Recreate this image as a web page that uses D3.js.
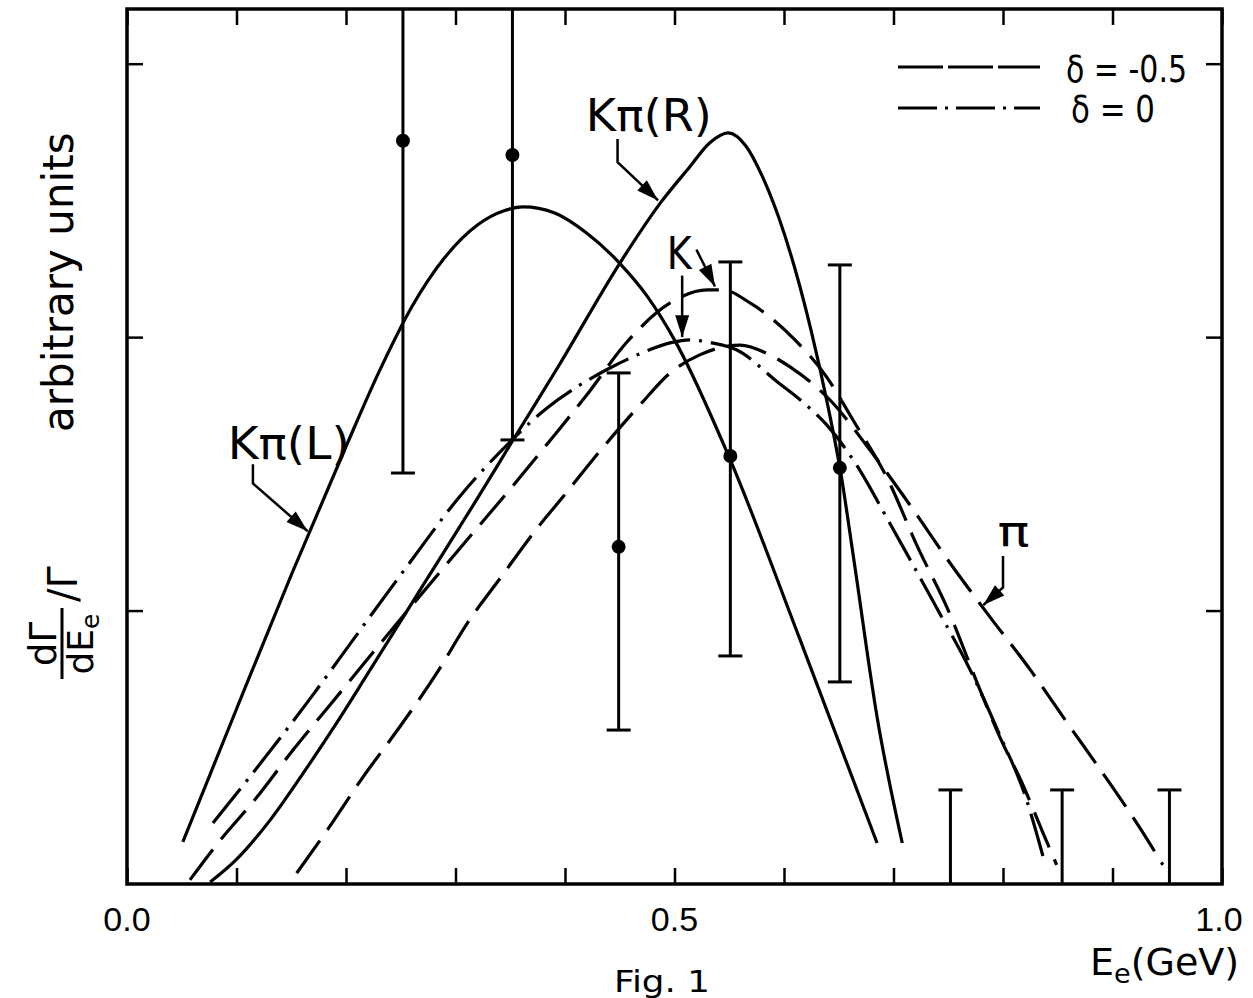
<!DOCTYPE html>
<html><head><meta charset="utf-8">
<script src="https://cdn.jsdelivr.net/npm/d3@7"></script>
<style>
body{margin:0;background:#fff}
svg{display:block}
text{font-family:"DejaVu Sans","Liberation Sans",Arial,sans-serif;fill:#000}
</style>
</head><body>
<svg id="c" width="1253" height="998"></svg>
<script>
// ---------- data ----------
const xTickValues = [0,0.1,0.2,0.3,0.4,0.5,0.6,0.7,0.8,0.9,1.0];
const xTickLabels = ["0.0","0.5","1.0"];
const xLabelValues = [0, 0.5, 1.0];
const yTickValues = [1,2,3];

// Kpi(L) solid
const kpiL_x = [0.051,0.10,0.15,0.20,0.231,0.26,0.29,0.32,0.345,0.362,0.39,0.42,0.45,0.475,0.50,0.55,0.615,0.685];
const kpiL_y = [0.154,0.64,1.13,1.60,1.88,2.11,2.29,2.41,2.463,2.476,2.455,2.38,2.27,2.15,1.99,1.56,0.89,0.15];
// Kpi(R) solid
const kpiR_x = [0.076,0.10,0.13,0.16,0.19,0.22,0.27,0.32,0.352,0.395,0.45,0.487,0.514,0.532,0.549,0.565,0.58,0.595,0.61,0.625,0.64,0.652,0.664,0.685,0.708];
const kpiR_y = [0.007,0.09,0.23,0.40,0.58,0.77,1.09,1.41,1.62,1.90,2.27,2.49,2.623,2.71,2.747,2.70,2.59,2.44,2.25,2.02,1.75,1.50,1.18,0.611,0.150];
// K, delta = -0.5 (dashed)
const kM_x = [0.0575,0.0831,0.1187,0.1516,0.1854,0.2584,0.316,0.3516,0.3845,0.420,0.4566,0.496,0.530,0.544,0.569,0.610,0.639,0.663,0.695,0.722,0.749,0.779,0.797,0.817,0.8365,0.849];
const kM_y = [0.015,0.150,0.318,0.490,0.655,1.010,1.284,1.452,1.613,1.789,1.982,2.125,2.173,2.173,2.125,1.990,1.854,1.697,1.478,1.233,1.010,0.710,0.538,0.373,0.187,0.070];
// pi, delta = -0.5 (dashed)
const piM_x = [0.155,0.183,0.2155,0.249,0.283,0.311,0.341,0.3726,0.398,0.435,0.470,0.496,0.523,0.560,0.587,0.6055,0.642,0.6785,0.715,0.7516,0.788,0.825,0.858,0.891,0.925,0.946];
const piM_y = [0.040,0.198,0.391,0.574,0.772,0.955,1.119,1.291,1.415,1.598,1.759,1.869,1.935,1.971,1.935,1.891,1.770,1.587,1.386,1.174,0.977,0.783,0.593,0.406,0.205,0.070];
// delta = 0 (dash-dot)
const k0_x = [0.0785,0.112,0.165,0.213,0.258,0.302,0.3516,0.3836,0.4137,0.441,0.470,0.496,0.514,0.534,0.557,0.594,0.615,0.639,0.665,0.695,0.738,0.770,0.797,0.820,0.838];
const k0_y = [0.223,0.391,0.666,0.929,1.174,1.408,1.624,1.741,1.825,1.887,1.942,1.979,1.990,1.979,1.953,1.836,1.770,1.679,1.540,1.331,1.020,0.783,0.545,0.326,0.080];

// data points with error bars
const ptX  = [0.252,0.352,0.449,0.551,0.651];
const ptY  = [2.718,2.666,1.233,1.565,1.522];
const ptLo = [1.503,1.624,0.563,0.834,0.739];
const ptHi = [3.6,3.6,1.869,2.275,2.264];
// upper limits
const limX  = [0.752,0.854,0.952];
const limHi = [0.344,0.344,0.344];

// ---------- layout ----------
const svg = d3.select("#c");
const x = d3.scaleLinear().domain([0,1]).range([127,1222]);
const y = d3.scaleLinear().domain([0,3.2]).range([884,9]);
const TICK = 16;

svg.append("defs").append("clipPath").attr("id","plot")
  .append("rect").attr("x",x(0)).attr("y",y(3.2)).attr("width",x(1)-x(0)).attr("height",y(0)-y(3.2));

// frame
svg.append("rect").attr("x",x(0)).attr("y",y(3.2)).attr("width",x(1)-x(0)).attr("height",y(0)-y(3.2))
  .attr("fill","none").attr("stroke","#000").attr("stroke-width",3.5);

// axes (ticks inward)
const axB = d3.axisBottom(x).tickValues(xTickValues).tickSize(-TICK).tickFormat("");
const axT = d3.axisTop(x).tickValues(xTickValues).tickSize(-TICK).tickFormat("");
const axL = d3.axisLeft(y).tickValues(yTickValues).tickSize(-TICK).tickFormat("");
const axR = d3.axisRight(y).tickValues(yTickValues).tickSize(-TICK).tickFormat("");
[[axB,`translate(0,${y(0)})`],[axT,`translate(0,${y(3.2)})`],[axL,`translate(${x(0)},0)`],[axR,`translate(${x(1)},0)`]].forEach(([a,t])=>{
  const g = svg.append("g").attr("transform",t).call(a);
  g.select(".domain").remove();
  g.selectAll("line").attr("stroke","#000").attr("stroke-width",2.5);
});

// tick labels
svg.selectAll(".xl").data(xLabelValues).enter().append("text")
  .attr("x",d=>Math.min(x(d),1219)).attr("y",931).attr("text-anchor","middle")
  .style("font-family","'Liberation Sans',Arial,sans-serif")
  .attr("font-size",34)
  .text((d,i)=>xTickLabels[i]);

// axis title
const xt = svg.append("text").attr("x",1090).attr("y",975).attr("font-size",38);
xt.append("tspan").text("E");
xt.append("tspan").attr("font-size",27).attr("dy",8).text("e");
xt.append("tspan").attr("dy",-8).text("(GeV)");

svg.append("text").attr("x",662).attr("y",992).attr("text-anchor","middle").attr("font-size",30)
  .attr("textLength",96).attr("lengthAdjust","spacingAndGlyphs").text("Fig. 1");

// y label (rotated)
const yl = svg.append("g").attr("transform","translate(62,682) rotate(-90)");
yl.append("text").attr("x",38).attr("y",-6).attr("text-anchor","middle").attr("font-size",37).text("dΓ");
yl.append("line").attr("x1",3).attr("x2",74).attr("y1",0).attr("y2",0).attr("stroke","#000").attr("stroke-width",3);
const den = yl.append("text").attr("x",38).attr("y",31).attr("text-anchor","middle").attr("font-size",36);
den.append("tspan").text("dE");
den.append("tspan").attr("font-size",25).attr("dy",6).text("e");
yl.append("text").attr("x",80).attr("y",15).attr("font-size",40).text("/Γ");
yl.append("text").attr("x",250).attr("y",11).attr("font-size",42).text("arbitrary units");

// ---------- curves ----------
const plot = svg.append("g").attr("clip-path","url(#plot)");
const line = d3.line().x(d=>x(d[0])).y(d=>y(d[1])).curve(d3.curveMonotoneX);
const curves = [
  {xs:kpiL_x, ys:kpiL_y, dash:null},
  {xs:kpiR_x, ys:kpiR_y, dash:null},
  {xs:kM_x,   ys:kM_y,   dash:"38,13"},
  {xs:piM_x,  ys:piM_y,  dash:"40,13"},
  {xs:k0_x,   ys:k0_y,   dash:"44,9,3,9"}
];
curves.forEach(c=>{
  plot.append("path").datum(d3.zip(c.xs,c.ys)).attr("d",line)
    .attr("fill","none").attr("stroke","#000").attr("stroke-width",3.2)
    .attr("stroke-dasharray",c.dash);
});

// ---------- error bars ----------
const CAP = 12;
ptX.forEach((vx,i)=>{
  const X = x(vx);
  plot.append("line").attr("x1",X).attr("x2",X).attr("y1",y(ptLo[i])).attr("y2",y(Math.min(ptHi[i],3.2)))
    .attr("stroke","#000").attr("stroke-width",3);
  plot.append("line").attr("x1",X-CAP).attr("x2",X+CAP).attr("y1",y(ptLo[i])).attr("y2",y(ptLo[i]))
    .attr("stroke","#000").attr("stroke-width",3);
  if (ptHi[i] < 3.2) plot.append("line").attr("x1",X-CAP).attr("x2",X+CAP).attr("y1",y(ptHi[i])).attr("y2",y(ptHi[i]))
    .attr("stroke","#000").attr("stroke-width",3);
  plot.append("circle").attr("cx",X).attr("cy",y(ptY[i])).attr("r",7).attr("fill","#000");
});
limX.forEach((vx,i)=>{
  const X = x(vx);
  plot.append("line").attr("x1",X).attr("x2",X).attr("y1",y(0)).attr("y2",y(limHi[i])).attr("stroke","#000").attr("stroke-width",3);
  plot.append("line").attr("x1",X-CAP).attr("x2",X+CAP).attr("y1",y(limHi[i])).attr("y2",y(limHi[i])).attr("stroke","#000").attr("stroke-width",3);
});

// ---------- annotations ----------
function arrow(pts){ // pts in data units, last is tip
  const p = pts.map(d=>[x(d[0]),y(d[1])]);
  svg.append("path").attr("d",d3.line()(p)).attr("fill","none").attr("stroke","#000").attr("stroke-width",2.5);
  const [a,b] = [p[p.length-2],p[p.length-1]];
  const ang = Math.atan2(b[1]-a[1],b[0]-a[0]);
  const L=22, W=7;
  const bx=b[0]-L*Math.cos(ang), by=b[1]-L*Math.sin(ang);
  const nx=-Math.sin(ang)*W, ny=Math.cos(ang)*W;
  svg.append("path").attr("d",`M${b[0]},${b[1]}L${bx+nx},${by+ny}L${bx-nx},${by-ny}Z`).attr("fill","#000");
}
function label(t, vx, vy, fs, w){
  const e = svg.append("text").attr("x",x(vx)).attr("y",y(vy)).attr("font-size",fs).text(t);
  if (w) e.attr("textLength",w).attr("lengthAdjust","spacingAndGlyphs");
}
label("Kπ(R)", 0.419, 2.755, 44, 126);
arrow([[0.448,2.725],[0.448,2.640],[0.485,2.500]]);
label("Kπ(L)", 0.092, 1.555, 44, 122);
arrow([[0.115,1.535],[0.115,1.465],[0.165,1.290]]);
label("K", 0.493, 2.250, 44, 25);
arrow([[0.507,2.225],[0.507,2.000]]);
arrow([[0.520,2.320],[0.537,2.185]]);
label("π", 0.795, 1.235, 42, 32);
arrow([[0.800,1.200],[0.800,1.085],[0.782,1.020]]);

// ---------- legend ----------
svg.append("line").attr("x1",898).attr("x2",1040).attr("y1",67).attr("y2",67)
  .attr("stroke","#000").attr("stroke-width",3.2).attr("stroke-dasharray","45,5");
svg.append("line").attr("x1",898).attr("x2",1040).attr("y1",108).attr("y2",108)
  .attr("stroke","#000").attr("stroke-width",3.2).attr("stroke-dasharray","39,8,3,8");
svg.append("text").attr("x",1066).attr("y",82).attr("font-size",38).attr("textLength",121).attr("lengthAdjust","spacingAndGlyphs").text("δ = -0.5");
svg.append("text").attr("x",1071).attr("y",122).attr("font-size",38).attr("textLength",84).attr("lengthAdjust","spacingAndGlyphs").text("δ = 0");
</script>
</body></html>
